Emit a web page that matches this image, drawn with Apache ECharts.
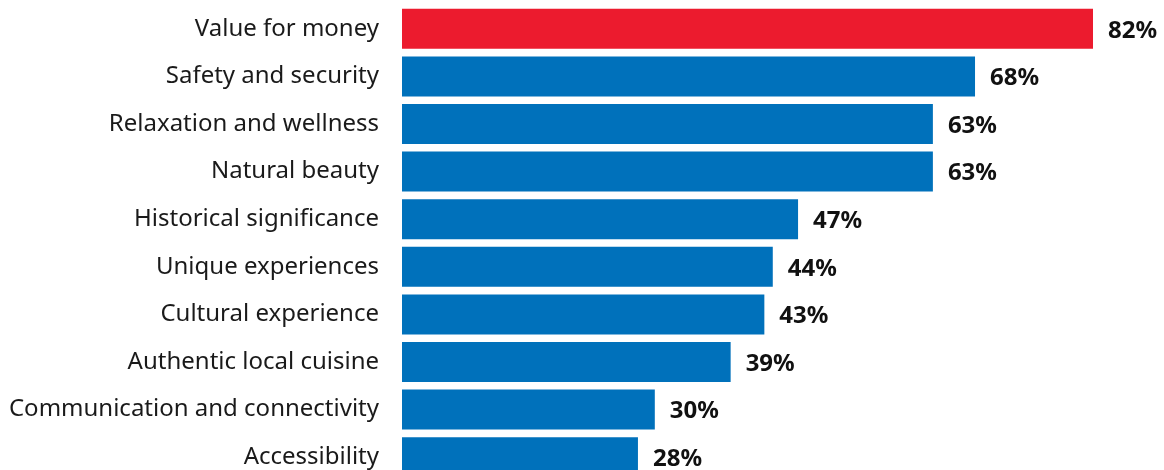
<!DOCTYPE html>
<html>
<head>
<meta charset="utf-8">
<script src="https://cdn.jsdelivr.net/npm/echarts@6/dist/echarts.min.js"></script>
<style>
  html, body { margin: 0; padding: 0; background: #ffffff; overflow: hidden; }
  #chart { width: 1164px; height: 490px; }
</style>
</head>
<body>
<div id="chart"></div>
<script>
// Share of respondents citing each factor (%)
const categories = [
  'Value for money',
  'Safety and security',
  'Relaxation and wellness',
  'Natural beauty',
  'Historical significance',
  'Unique experiences',
  'Cultural experience',
  'Authentic local cuisine',
  'Communication and connectivity',
  'Accessibility'
];
const values = [82, 68, 63, 63, 47, 44, 43, 39, 30, 28];
const highlightIndex = 0;

const RED = '#EC1B2E';
const BLUE = '#0071BB';
const FONT = 'Noto Sans';

const chart = echarts.init(document.getElementById('chart'), null, { renderer: 'canvas' });

chart.setOption({
  animation: false,
  grid: { left: 402, right: 71, top: 5, height: 476, containLabel: false },
  xAxis: {
    type: 'value', min: 0, max: 82,
    show: false
  },
  yAxis: {
    type: 'category',
    data: categories,
    inverse: true,
    axisLine: { show: false },
    axisTick: { show: false },
    splitLine: { show: false },
    axisLabel: {
      margin: 23,
      color: '#1a1a1a',
      fontFamily: FONT,
      fontSize: 24
    }
  },
  series: [{
    type: 'bar',
    data: values.map((v, i) => ({
      value: v,
      itemStyle: { color: i === highlightIndex ? RED : BLUE }
    })),
    barCategoryGap: '16%',
    label: {
      show: true,
      position: 'right',
      distance: 15,
      offset: [0, 2],
      formatter: p => p.value + '%',
      color: '#111111',
      fontFamily: FONT,
      fontWeight: 'bold',
      fontSize: 24
    }
  }]
});
</script>
</body>
</html>
